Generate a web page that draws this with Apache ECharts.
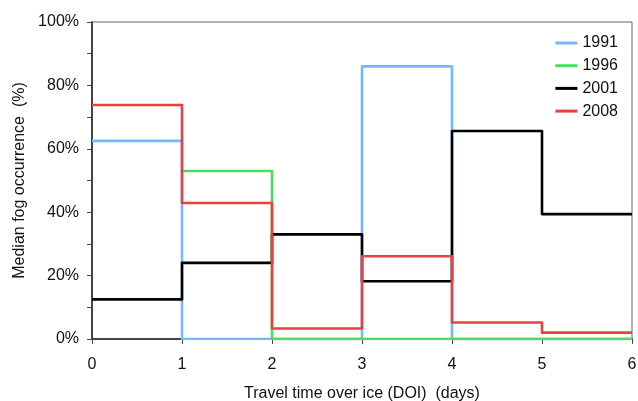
<!DOCTYPE html>
<html><head><meta charset="utf-8">
<script src="https://cdn.jsdelivr.net/npm/echarts@6/dist/echarts.min.js"></script>
<style>html,body{margin:0;padding:0;background:#fff}#c{width:638px;height:401px}</style>
</head><body><div id="c"></div>
<script>
const days = [0, 1, 2, 3, 4, 5, 6];
const s1991 = [62.5, 0, 0, 86, 0, 0];
const s1996 = [null, 53, 0, 0, 0, 0];
const s2001 = [12.5, 24, 33, 18.2, 65.6, 39.4];
const s2008 = [73.8, 42.9, 3.3, 26.1, 5.2, 2.0];
const names = ['1991', '1996', '2001', '2008'];
const colors = ['#74b9ff', '#4cdc5c', '#000000', '#e8413f'];
const yTicks = [0, 20, 40, 60, 80, 100];

function stepData(vals) {
  const out = [];
  for (let i = 0; i < vals.length; i++) {
    if (vals[i] !== null) out.push([days[i], vals[i]]);
  }
  out.push([days[vals.length], vals[vals.length - 1]]);
  return out;
}
const all = [s1991, s1996, s2001, s2008];
const font = 'Liberation Sans, Arial, sans-serif';
const chart = echarts.init(document.getElementById('c'), null, {renderer: 'canvas'});
chart.setOption({
  animation: false,
  textStyle: {fontFamily: font},
  grid: {left: 92, top: 22, right: 6, bottom: 62, show: true, borderColor: '#666', borderWidth: 1,
         containLabel: false, outerBoundsMode: 'none'},
  legend: {
    right: 15, top: 30, orient: 'vertical', itemWidth: 22, itemHeight: 3, itemGap: 6.7,
    icon: 'rect',
    textStyle: {fontSize: 16, color: '#111', fontFamily: font},
    data: names
  },
  xAxis: {
    type: 'value', min: 0, max: 6, interval: 1,
    name: 'Travel time over ice (DOI)  (days)', nameLocation: 'middle', nameGap: 47,
    nameTextStyle: {fontSize: 16, color: '#111'},
    axisLine: {lineStyle: {color: '#222', width: 1.5}},
    axisTick: {show: true, length: 5, lineStyle: {color: '#444'}},
    axisLabel: {fontSize: 16, color: '#111', margin: 18},
    splitLine: {show: false}
  },
  yAxis: {
    type: 'value', min: 0, max: 100, interval: 20,
    name: 'Median fog occurrence  (%)', nameLocation: 'middle', nameGap: 60,
    nameTextStyle: {fontSize: 16, color: '#111'},
    axisLine: {show: true, lineStyle: {color: '#222', width: 1.5}},
    axisTick: {show: true, length: 5, lineStyle: {color: '#444'}},
    minorTick: {show: true, splitNumber: 2, length: 5, lineStyle: {color: '#444'}},
    axisLabel: {fontSize: 16, color: '#111', margin: 13, formatter: v => yTicks.includes(v) ? v + '%' : ''},
    splitLine: {show: false}
  },
  series: names.map((n, i) => ({
    name: n, type: 'line', step: 'end', data: stepData(all[i]),
    symbol: 'none', color: colors[i],
    lineStyle: {width: 2.6, color: colors[i], join: 'round'},
    z: 2 + i
  }))
});
</script></body></html>
